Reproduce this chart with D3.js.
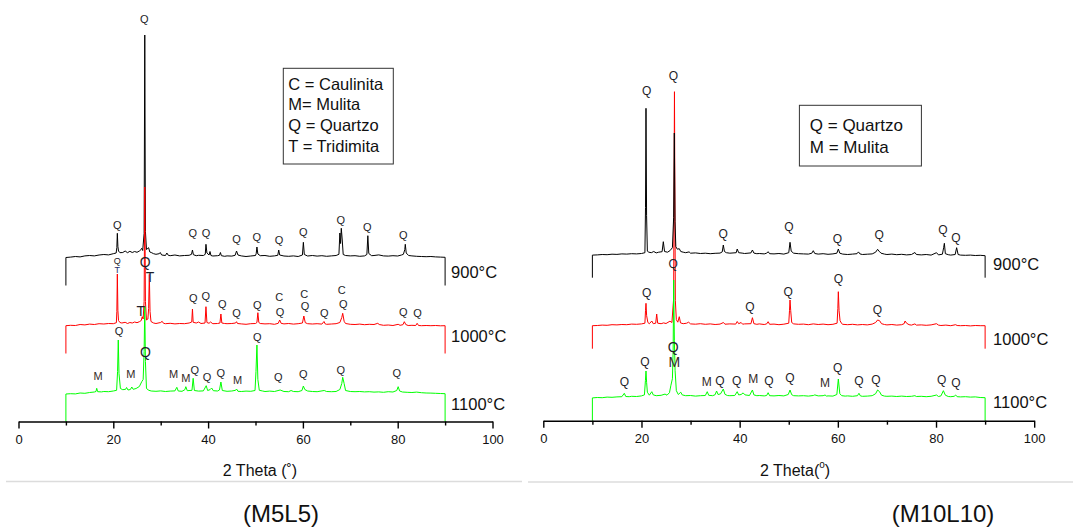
<!DOCTYPE html>
<html>
<head>
<meta charset="utf-8">
<script src="https://cdn.jsdelivr.net/npm/d3@7"></script>
<style>
  body { margin: 0; background: #fff; }
  svg { display: block; font-family: "Liberation Sans", Arial, sans-serif; }
</style>
</head>
<body>
<svg id="chart" width="1073" height="528"></svg>
<script>
// ---- XRD patterns: [2θ (deg), intensity (counts)] ----
const temps = ["900°C", "1000°C", "1100°C"];
const traceColors = ["#000000", "#ff0000", "#00ff00"];
const xTicks = [0, 20, 40, 60, 80, 100];
const xMinorTicks = [10, 30, 50, 70, 90];

// M5L5
const m5l5_900 = [[10,280],[11,284],[12,290],[13,286],[14,296],[15,300],[16,296],[17,305],[18,310],[19,306],[20,318],[20.6,325],[20.75,380],[20.85,522],[20.97,390],[21.1,345],[21.4,328],[22,330],[22.5,345],[23,328],[23.5,342],[24,330],[24.5,340],[25,332],[25.5,345],[25.9,362],[26.0,372],[26.2,350],[26.5,520],[26.64,2505],[26.78,540],[27.0,360],[27.3,372],[27.45,378],[27.7,335],[28,330],[28.5,318],[29,312],[29.7,318],[29.9,330],[30.2,305],[31,300],[31.3,325],[31.6,302],[32,298],[33,305],[34,296],[35,300],[36,302],[36.5,312],[36.7,355],[36.9,308],[37.5,298],[38,302],[39,300],[39.4,312],[39.55,412],[39.75,325],[40.2,305],[40.4,340],[40.6,300],[41,295],[42,298],[42.4,302],[42.6,330],[42.8,298],[43.5,292],[44,296],[45,294],[45.7,302],[46.0,345],[46.3,305],[47,296],[48,290],[49,295],[50,300],[50.15,320],[50.3,385],[50.5,315],[51,298],[52,300],[53,292],[54,296],[54.7,302],[54.9,355],[55.1,305],[56,295],[57,292],[58,296],[59,290],[59.9,305],[60.1,432],[60.3,310],[61,295],[62,300],[63,294],[64,298],[65,292],[66,296],[67,300],[67.6,312],[67.8,525],[67.95,420],[68.1,572],[68.3,455],[68.5,310],[69,300],[70,296],[71,298],[72,292],[73,296],[73.5,310],[73.7,498],[73.9,320],[74.5,298],[75,300],[76,306],[77,296],[78,294],[79,298],[80,295],[80.8,305],[81.2,312],[81.5,360],[81.6,412],[81.8,325],[82.3,300],[83,296],[84,292],[85,290],[86,288],[87,290],[88,286],[89,284],[90,282]];
const m5l5_1000 = [[10,278],[11,282],[12,280],[13,290],[14,286],[15,294],[16,290],[17,298],[18,295],[19,300],[20,298],[20.65,308],[20.75,420],[20.85,795],[20.97,430],[21.1,330],[21.4,310],[21.8,305],[22.5,312],[23,300],[23.5,310],[24,305],[24.5,315],[25,308],[25.5,318],[25.9,330],[26.1,368],[26.3,345],[26.5,520],[26.64,1665],[26.78,520],[27.0,335],[27.3,345],[27.45,450],[27.6,792],[27.75,420],[27.95,320],[28.5,305],[29,300],[30,310],[30.3,322],[30.6,302],[31,298],[32,302],[33,296],[34,300],[35,298],[36,305],[36.55,315],[36.7,445],[36.85,312],[37.5,305],[38,315],[38.5,300],[39.35,305],[39.55,468],[39.75,310],[40.2,302],[40.5,315],[41,298],[42,300],[42.5,305],[42.7,395],[42.9,305],[43.5,300],[44,298],[45,300],[45.8,305],[46.0,318],[46.2,300],[47,296],[48,292],[49,298],[50,300],[50.3,310],[50.5,408],[50.7,310],[51,300],[52,296],[53,298],[54,292],[54.8,302],[55.1,335],[55.4,302],[56,296],[57,300],[58,294],[59,298],[59.9,305],[60.2,375],[60.5,308],[61,298],[62,295],[63,298],[64,294],[64.45,320],[64.7,296],[65,292],[66,295],[67,298],[67.8,310],[68.2,360],[68.4,402],[68.7,322],[69,300],[70,292],[71,290],[72,294],[73,288],[74,292],[75,290],[75.8,302],[76.1,290],[77,282],[78,285],[79,280],[80.1,292],[80.5,282],[81.1,288],[81.4,318],[81.7,290],[82.2,280],[83,282],[83.8,280],[84.1,302],[84.4,280],[85,278],[86,280],[87,278],[88,280],[89,277],[90,278]];
const m5l5_1100 = [[10,275],[11,278],[12,276],[13,285],[14,282],[15,290],[16,295],[16.35,300],[16.5,332],[16.7,298],[17.5,296],[18,300],[19,298],[20,305],[20.7,312],[20.9,500],[21.05,815],[21.2,480],[21.5,330],[22,318],[22.6,322],[22.8,340],[23.1,315],[23.6,320],[23.9,345],[24.2,322],[24.8,330],[25.5,350],[26.0,398],[26.3,420],[26.5,700],[26.64,1148],[26.78,600],[27.0,330],[27.5,312],[28,305],[29,302],[30,306],[31,300],[32,304],[33,306],[33.4,342],[33.7,305],[34.5,302],[35.1,318],[35.3,348],[35.6,308],[36.6,312],[36.85,432],[37.1,310],[38,304],[39,306],[39.6,358],[39.9,310],[40.4,318],[40.75,335],[41.1,308],[42,305],[42.4,315],[42.7,395],[43,310],[44,302],[45,305],[45.8,312],[46.0,325],[46.3,302],[47,300],[48,304],[49,302],[49.9,310],[50.1,500],[50.3,765],[50.5,420],[50.8,312],[51.5,305],[52,300],[53,304],[54,300],[55.2,315],[56,300],[57,298],[57.5,310],[58,300],[59,298],[59.8,310],[60.1,355],[60.4,320],[61,305],[62,300],[63,298],[64.5,310],[65,300],[66,298],[67,300],[67.8,320],[68.2,380],[68.4,442],[68.7,380],[69,310],[70,300],[71,298],[72,300],[73,296],[74,298],[75,294],[76,296],[77,292],[78,298],[79,295],[79.8,310],[80.1,348],[80.4,305],[81,295],[82,292],[83,290],[84,294],[85,288],[86,285],[87,284],[88,282],[89,280],[90,278]];
const m5l5_offsets = [1360, 680, 0];

// peak labels: [2θ, intensity above trace zero, phase letter, size]
const m5l5_900_labels = [[20.85,605,"Q"],[26.55,2665,"Q"],[36.75,522,"Q"],[39.55,522,"Q"],[46.0,465,"Q"],[50.25,488,"Q"],[54.95,455,"Q"],[60.1,538,"Q"],[68.0,655,"Q"],[73.6,588,"Q"],[81.2,505,"Q"]];
const m5l5_1000_labels = [[20.85,925,"Q","s"],[20.85,835,"T","s"],[26.75,918,"Q","b"],[25.8,428,"T","b"],[27.74,770,"T","b"],[36.9,558,"Q"],[39.5,578,"Q"],[43.0,495,"Q"],[46.0,402,"Q"],[50.4,485,"Q"],[55.0,562,"C"],[55.2,412,"Q"],[60.3,595,"C"],[60.45,475,"Q"],[64.5,408,"Q"],[68.2,635,"C"],[68.5,495,"Q"],[81.2,412,"Q"],[84.2,402,"Q"]];
const m5l5_1100_labels = [[16.8,455,"M"],[21.2,908,"Q"],[23.7,475,"M"],[26.8,698,"Q","b"],[32.7,475,"M"],[35.3,432,"M"],[37.2,515,"Q"],[39.8,442,"Q"],[42.65,488,"Q"],[46.2,415,"M"],[50.4,848,"Q"],[54.8,448,"Q"],[60.1,475,"Q"],[68.0,515,"Q"],[79.8,488,"Q"]];
const m5l5_legend = ["C = Caulinita", "M= Mulita", "Q = Quartzo", "T = Tridimita"];

// M10L10
const m10l10_900 = [[10,226],[11,228],[12,232],[13,230],[14,235],[15,233],[16,238],[17,236],[18,240],[19,238],[20,242],[20.7,250],[20.82,700],[20.92,1694],[21.04,620],[21.2,265],[21.5,255],[22,250],[22.5,262],[23,248],[23.5,255],[24.2,260],[24.45,360],[24.7,262],[25.3,255],[25.8,270],[26.3,300],[26.55,600],[26.69,1447],[26.83,560],[27.0,310],[27.3,285],[27.7,290],[28,262],[28.5,255],[29,250],[29.7,258],[30,245],[31,248],[32,242],[33,245],[34,240],[35,244],[36,246],[36.45,258],[36.67,327],[36.9,262],[37.3,250],[38,245],[39.3,250],[39.5,287],[39.8,250],[40.5,246],[41,242],[42.3,248],[42.6,277],[42.9,246],[43.5,240],[44,242],[45,238],[45.5,245],[45.8,260],[46.1,240],[47,238],[48,242],[49,236],[50,250],[50.26,354],[50.5,265],[51,245],[52,240],[53,238],[54,236],[54.7,245],[55,270],[55.3,242],[56,236],[57,240],[58,234],[59,238],[59.8,245],[60.1,287],[60.4,245],[61,236],[62,232],[63,236],[63.9,240],[64.2,258],[64.5,238],[65,232],[66,235],[67,238],[67.7,255],[68.1,284],[68.4,265],[68.8,245],[69.5,236],[70,232],[71,236],[72,230],[73,234],[74,228],[75,232],[75.7,252],[76,232],[77,228],[78,232],[79,226],[80.1,250],[80.5,228],[81.3,235],[81.55,300],[81.7,344],[81.9,240],[82.5,230],[83,226],[83.9,232],[84.2,300],[84.5,232],[85,226],[86,224],[87,226],[88,222],[89,224],[90,220]];
const m10l10_1000 = [[10,230],[11,232],[12,236],[13,234],[14,240],[15,238],[16,242],[17,240],[18,246],[19,244],[20,248],[20.7,255],[20.82,380],[20.92,454],[21.05,330],[21.3,262],[21.6,250],[22.1,277],[22.4,250],[22.9,255],[23.1,347],[23.3,255],[24,250],[24.5,258],[25,252],[25.8,275],[26.2,262],[26.55,500],[26.72,2570],[26.9,480],[27.1,290],[27.4,265],[27.7,320],[27.95,258],[28.5,250],[29.2,255],[29.6,265],[30,248],[31,245],[32,250],[33,244],[34,248],[35,242],[36,246],[36.7,262],[37,245],[38,248],[39.2,246],[39.5,272],[39.8,250],[40.3,262],[40.6,245],[41,248],[42.3,250],[42.6,310],[42.9,250],[43.5,244],[44,248],[45,242],[45.5,248],[45.8,270],[46.1,244],[47,246],[48,240],[49,245],[50,255],[50.15,380],[50.26,487],[50.4,380],[50.6,262],[51,248],[52,244],[53,246],[54,240],[55,248],[56,242],[57,246],[58,240],[59,244],[59.85,255],[60,400],[60.1,570],[60.25,380],[60.45,280],[60.8,250],[61,244],[62,240],[63,244],[64,238],[65,242],[66,238],[67,246],[67.7,262],[68.1,287],[68.5,280],[68.9,250],[69.5,242],[70,238],[71,242],[72,236],[73,240],[73.5,250],[73.7,277],[74,255],[74.5,240],[75,236],[75.7,248],[76,236],[77,238],[78,234],[79,238],[80.1,250],[80.5,236],[81,232],[82,236],[83,230],[84,240],[84.3,232],[85,230],[86,232],[87,228],[88,232],[89,230],[90,230]];
const m10l10_1100 = [[10,228],[11,232],[12,230],[13,236],[14,234],[15,238],[16,240],[16.5,274],[16.8,242],[17.5,240],[18,244],[19,242],[20,248],[20.6,258],[20.8,400],[20.92,497],[21.05,380],[21.2,285],[21.6,255],[22.1,290],[22.4,258],[23,250],[24,254],[24.8,266],[25.2,255],[25.7,280],[26.0,355],[26.3,420],[26.45,700],[26.56,1407],[26.7,800],[26.85,500],[27.1,300],[27.5,262],[28.0,285],[28.3,258],[29,250],[30,252],[31,246],[32,250],[33,252],[33.4,290],[33.7,254],[34.5,250],[35.0,260],[35.3,297],[35.6,262],[36.1,268],[36.67,317],[37,264],[37.5,252],[38,250],[39,252],[39.5,290],[39.8,258],[40.3,262],[40.7,278],[41.1,258],[42,252],[42.6,307],[42.9,258],[43.5,250],[44,252],[45,248],[45.5,252],[45.8,280],[46.1,250],[47,248],[48,252],[49,248],[49.9,262],[50.26,307],[50.6,260],[51,250],[52,248],[53,250],[54,246],[55,252],[55.3,258],[56,248],[57,250],[57.4,257],[57.7,246],[58,248],[59,246],[59.8,262],[60.1,417],[60.4,270],[60.8,250],[61.5,246],[62,248],[63,244],[64,250],[64.3,274],[64.6,248],[65,244],[66,246],[67,250],[67.7,270],[68.1,307],[68.5,290],[68.9,255],[69.5,246],[70,244],[71,246],[72,242],[73,246],[74,242],[75,244],[75.7,250],[76,242],[77,244],[78,240],[79,244],[80.1,257],[80.5,242],[81,248],[81.5,300],[81.9,255],[82.5,242],[83,240],[83.7,244],[84.0,257],[84.3,240],[85,238],[86,240],[87,236],[88,238],[89,232],[90,230]];
const m10l10_offsets = [1430, 720, 0];

const m10l10_900_labels = [[21.06,1867,"Q"],[26.5,2014,"Q"],[36.65,434,"Q"],[50.05,504,"Q"],[59.93,390,"Q"],[68.4,427,"Q"],[81.42,477,"Q"],[84.05,397,"Q"]];
const m10l10_1000_labels = [[21.06,554,"Q"],[26.48,844,"Q"],[42.1,420,"Q"],[49.9,564,"Q"],[60.1,694,"Q"],[68.04,387,"Q"]];
const m10l10_1100_labels = [[16.5,390,"Q"],[20.72,590,"Q"],[26.48,740,"Q","b"],[26.69,590,"M","b"],[33.29,390,"M"],[36.0,397,"Q"],[39.4,397,"Q"],[42.78,417,"M"],[45.98,397,"Q"],[50.26,430,"Q"],[57.38,380,"M"],[59.97,524,"Q"],[64.31,400,"Q"],[67.77,407,"Q"],[81.16,407,"Q"],[84.07,374,"Q"]];
const m10l10_legend = ["Q = Quartzo", "M = Mulita"];

// ---- layout of the two panels ----
const panels = [
  {
    caption: "(M5L5)", captionX: 281,
    series: [m5l5_900, m5l5_1000, m5l5_1100],
    labels: [m5l5_900_labels, m5l5_1000_labels, m5l5_1100_labels],
    offsets: m5l5_offsets, legend: m5l5_legend,
    x0: 18.5, x1: 492.5, y0: 421.5, order: [0, 1, 2],
    labelSize: 11, tempDy: [14, 17.5, 18], tempDx: 6,
    legendBox: { x: 283.3, y: 68.3, w: 110, h: 95.7, tx: 288.3, ty: 83.5, dy: 20.8, fs: 16.5 },
    title: "left", titleX: 260
  },
  {
    caption: "(M10L10)", captionX: 943,
    series: [m10l10_900, m10l10_1000, m10l10_1100],
    labels: [m10l10_900_labels, m10l10_1000_labels, m10l10_1100_labels],
    offsets: m10l10_offsets, legend: m10l10_legend,
    x0: 543.3, x1: 1034.2, y0: 420.7, order: [1, 0, 2],
    labelSize: 12, tempDy: [14, 10, 19], tempDx: 8,
    legendBox: { x: 799.4, y: 105.3, w: 122, h: 60.7, tx: 809.8, ty: 125.5, dy: 21.5, fs: 17 },
    title: "right", titleX: 795
  }
];

const svg = d3.select("#chart");
svg.append("rect").attr("width", 1073).attr("height", 528).attr("fill", "#fff");

panels.forEach(p => {
  const x = d3.scaleLinear().domain([0, 100]).range([p.x0, p.x1]);
  const y = d3.scaleLinear().domain([0, 4000]).range([p.y0, p.y0 - 400]);
  const g = svg.append("g");

  // stacked patterns, each dropped to its own zero level at 10° and 90°
  p.order.forEach(i => {
    const off = p.offsets[i];
    const pts = [[10, 0]].concat(p.series[i], [[90, 0]]);
    const line = d3.line().x(d => x(d[0])).y(d => y(d[1] + off));
    g.append("path")
      .attr("d", line(pts))
      .attr("fill", "none")
      .attr("stroke", traceColors[i])
      .attr("stroke-width", 1)
      .attr("stroke-linejoin", "round");
  });

  // phase letters over the peaks
  p.labels.forEach((lab, i) => {
    const off = p.offsets[i];
    g.selectAll(null).data(lab).enter().append("text")
      .attr("x", d => x(d[0]))
      .attr("y", d => y(d[1] + off))
      .attr("text-anchor", "middle")
      .attr("dominant-baseline", "central")
      .attr("font-size", d => d[3] === "b" ? 14 : d[3] === "s" ? 9 : p.labelSize)
      .attr("fill", d => d[2] === "T" && d[3] === "s" ? "#1f2f6f" : d[2] === "M" ? "#33291f" : "#1e1e28")
      .text(d => d[2]);
  });

  // temperature tags at the right end of each pattern
  temps.forEach((t, i) => {
    g.append("text")
      .attr("x", x(90) + p.tempDx)
      .attr("y", y(p.offsets[i]) - p.tempDy[i])
      .attr("dominant-baseline", "central")
      .attr("font-size", 16.5)
      .attr("fill", "#111")
      .text(t);
  });

  // x axis with minor ticks
  const axis = d3.axisBottom(x).tickValues(xTicks).tickSize(7).tickSizeOuter(0).tickPadding(6)
    .tickFormat(d3.format("d"));
  const ax = g.append("g").attr("transform", `translate(0,${p.y0})`).call(axis);
  ax.select(".domain").attr("stroke", "#000").attr("stroke-width", 1.4);
  ax.selectAll(".tick line").attr("stroke", "#000").attr("stroke-width", 1.4);
  ax.selectAll(".tick text").attr("font-size", 13).attr("fill", "#111")
    .attr("font-family", "Liberation Sans, Arial, sans-serif");
  const minor = d3.axisBottom(x).tickValues(xMinorTicks).tickSize(4).tickSizeOuter(0).tickFormat("");
  const mx = g.append("g").attr("transform", `translate(0,${p.y0})`).call(minor);
  mx.select(".domain").remove();
  mx.selectAll(".tick line").attr("stroke", "#000").attr("stroke-width", 1.4);

  // axis title
  const tt = g.append("text")
    .attr("x", p.titleX).attr("y", 470)
    .attr("text-anchor", "middle").attr("dominant-baseline", "central")
    .attr("font-size", 16).attr("fill", "#111");
  if (p.title === "left") {
    tt.text("2 Theta (˚)");
  } else {
    tt.append("tspan").text("2 Theta(");
    tt.append("tspan").attr("font-size", 10).attr("dy", -6).text("o");
    tt.append("tspan").attr("dy", 6).text(")");
  }

  // legend box
  const lb = p.legendBox;
  g.append("rect").attr("x", lb.x).attr("y", lb.y).attr("width", lb.w).attr("height", lb.h)
    .attr("fill", "#fff").attr("stroke", "#333").attr("stroke-width", 1);
  p.legend.forEach((s, k) => {
    g.append("text").attr("x", lb.tx).attr("y", lb.ty + k * lb.dy)
      .attr("dominant-baseline", "central").attr("font-size", lb.fs).attr("fill", "#111")
      .text(s);
  });

  // caption
  g.append("text").attr("x", p.captionX).attr("y", 513)
    .attr("text-anchor", "middle").attr("dominant-baseline", "central")
    .attr("font-size", 24).attr("fill", "#111").text(p.caption);
});

// separators above the captions
svg.append("line").attr("x1", 6).attr("x2", 522).attr("y1", 481.5).attr("y2", 481.5)
  .attr("stroke", "#dcdcdc").attr("stroke-width", 1.5);
svg.append("line").attr("x1", 528).attr("x2", 1073).attr("y1", 482).attr("y2", 482)
  .attr("stroke", "#dcdcdc").attr("stroke-width", 1.5);
</script>
</body>
</html>
